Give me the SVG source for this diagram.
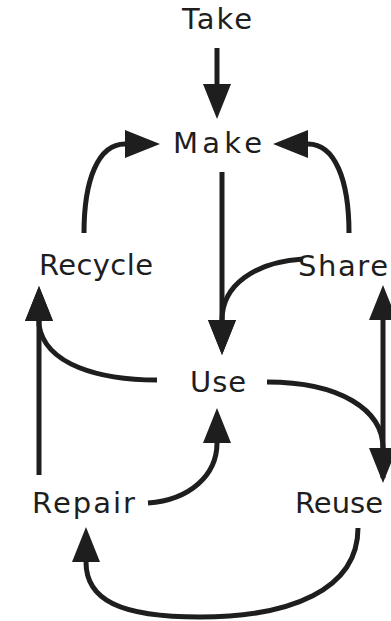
<svg xmlns="http://www.w3.org/2000/svg" width="391" height="621" viewBox="0 0 391 621">
<style>
.lbl{font-family:"DejaVu Sans","Noto Sans",sans-serif;font-size:29px;fill:#1e1e1e}
.c{fill:none;stroke:#1e1e1e;stroke-width:5;marker-end:url(#ah)}
</style>
<defs>
<marker id="ah" viewBox="0 0 35 28" refX="0" refY="14" markerWidth="35" markerHeight="28" markerUnits="userSpaceOnUse" orient="auto">
<path d="M0,0 L35,14 L0,28 z" fill="#1e1e1e"/>
</marker>
</defs>
<rect width="391" height="621" fill="#ffffff"/>
<g id="connectors">
<path class="c" d="M217,48 L217,84"/>
<path class="c" d="M222,172 L222,320"/>
<path class="c" d="M303,259 C255,262 222,285 222,320"/>
<path class="c" d="M84,233 C84,180 98,144 125,144"/>
<path class="c" d="M349,233 C349,180 335,144 308,144"/>
<path class="c" d="M157,380 C100,380 45,365 39,325 L39,321"/>
<path class="c" d="M39,475 L39,321"/>
<path class="c" d="M148,503 C190,500 217,475 217,443"/>
<path class="c" d="M358,528 C358,590 290,617 200,617 C120,617 86,600 86,562"/>
<path class="c" d="M267,382 C340,382 383,410 383,448"/>
<path class="c" d="M383,478 L383,320"/>
</g>
<g id="take"><text class="lbl" x="217" y="29" text-anchor="middle" textLength="70">Take</text></g>
<g id="make"><text class="lbl" x="217.5" y="153" text-anchor="middle" textLength="89">Make</text></g>
<g id="recycle"><text class="lbl" x="96" y="275" text-anchor="middle" textLength="114">Recycle</text></g>
<g id="share"><text class="lbl" x="343" y="276" text-anchor="middle" textLength="90">Share</text></g>
<g id="use"><text class="lbl" x="218" y="392" text-anchor="middle" textLength="56">Use</text></g>
<g id="repair"><text class="lbl" x="83.5" y="513" text-anchor="middle" textLength="103">Repair</text></g>
<g id="reuse"><text class="lbl" x="339" y="513" text-anchor="middle" textLength="88">Reuse</text></g>
</svg>
